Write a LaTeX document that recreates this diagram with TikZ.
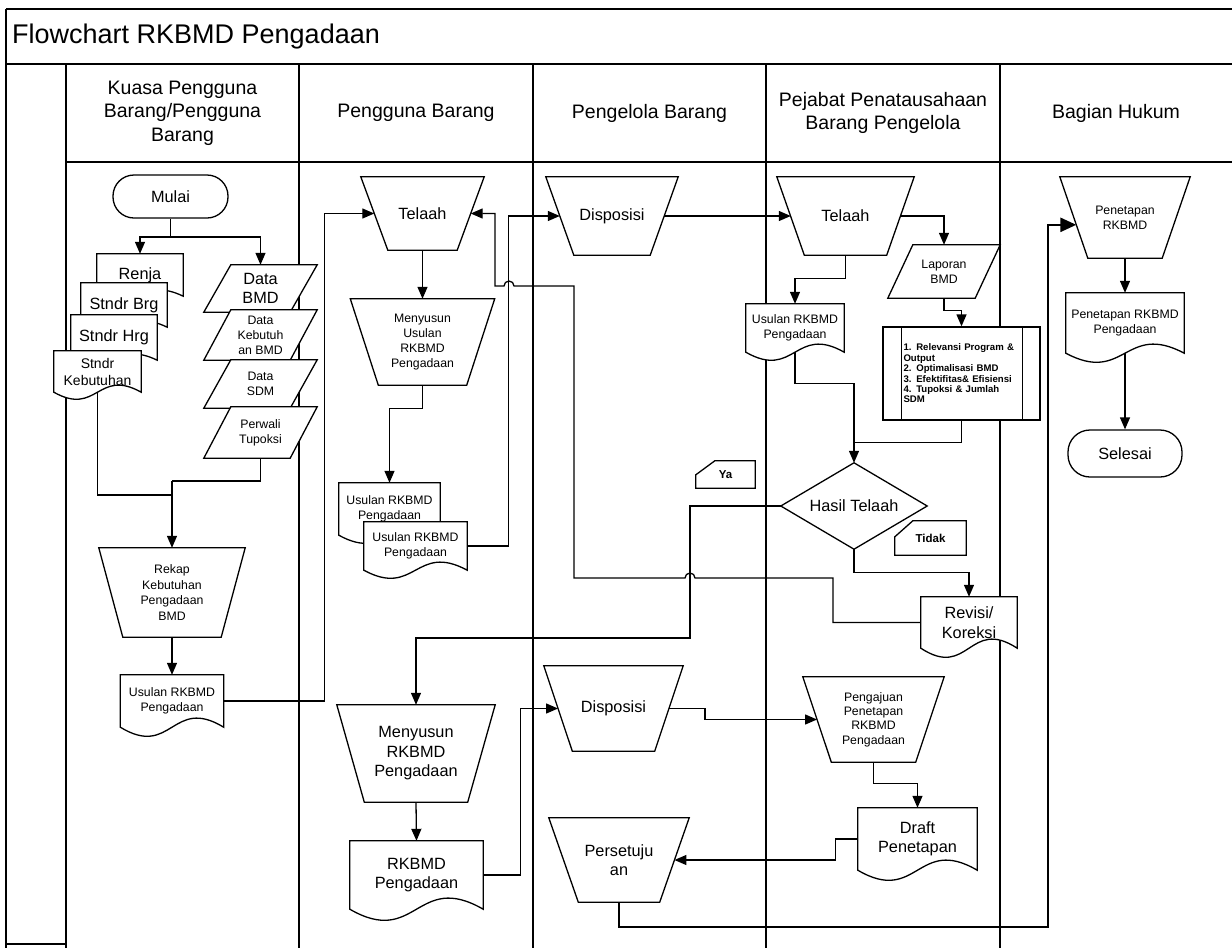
\documentclass[tikz,border=0pt]{standalone}
\usepackage{fontspec}
\setmainfont{Liberation Sans}
\usetikzlibrary{arrows.meta,calc}

\pgfdeclarelayer{lanes}
\pgfdeclarelayer{shapes}
\pgfsetlayers{lanes,shapes,main}

\newcommand\bigtxt{\fontsize{16.3}{19.5}\selectfont}
\newcommand\smalltxt{\fontsize{12.3}{15}\selectfont}
\newcommand\tagtxt{\bfseries\fontsize{11.5}{13}\selectfont}

\tikzset{
  shp/.style={draw, line width=1.3pt, fill=white, line join=miter},
  box/.style={inner sep=0pt, align=center},
  sz/.style 2 args={minimum width=#1pt, minimum height=#2pt},
  arr/.style={line width=1.3pt, -{Triangle[length=12pt,width=10pt]}},
  con/.style={line width=1.3pt},
  lane/.style={line width=1.3pt},
  frame/.style={line width=2pt},
  terminal/.style={draw, line width=1.3pt, fill=white, inner sep=0pt},
}

% manual operation: wide top, narrow bottom
\newcommand\mopshape[2]{\begin{pgfonlayer}{shapes}
  \draw[shp] (#1.north west) -- (#1.north east) -- ([xshift=-#2pt]#1.south east)
    -- ([xshift=#2pt]#1.south west) -- cycle;\end{pgfonlayer}}
% document with a wavy lower edge below the node body
\newcommand\docshape[2]{\begin{pgfonlayer}{shapes}
  \draw[shp] (#1.north west) -- (#1.north east) -- (#1.south east)
    .. controls ([yshift={3.5*#2}]#1.south) and ([yshift={-3.5*#2}]#1.south) .. (#1.south west) -- cycle;\end{pgfonlayer}}
% data (parallelogram leaning right)
\newcommand\parashape[2]{\begin{pgfonlayer}{shapes}
  \draw[shp] (#1.south west) -- ([xshift=#2pt]#1.north west) -- (#1.north east)
    -- ([xshift=-#2pt]#1.south east) -- cycle;\end{pgfonlayer}}
% manual input label with a cut upper-left corner
\newcommand\tagshape[3]{\begin{pgfonlayer}{shapes}
  \draw[shp] (#1.south west) -- ([yshift=-#3pt]#1.north west) -- ([xshift=#2pt]#1.north west)
    -- (#1.north east) -- (#1.south east) -- cycle;\end{pgfonlayer}}

\begin{document}
\begin{tikzpicture}[x=1pt,y=-1pt]
\useasboundingbox (0,0) rectangle (1232,948);

% ---- frame and swimlanes ----
\begin{pgfonlayer}{lanes}
\draw[frame] (6,9) -- (1232,9);
\draw[frame] (6,64) -- (1232,64);
\draw[frame] (66,162) -- (1232,162);
\draw[lane] (6,9) -- (6,948);
\draw[lane] (66,64) -- (66,948);
\foreach \x in {299,533,766,1000} \draw[lane] (\x,64) -- (\x,948);
\draw[lane] (6,944) -- (66,944);
\end{pgfonlayer}

\node[box, anchor=west, font=\fontsize{27}{32}\selectfont] (title) at (12,37) {Flowchart RKBMD Pengadaan};

\begin{scope}[every node/.append style={box, font=\fontsize{19.5}{23.5}\selectfont}]
\node (hkuasa) at (182.5,113) {Kuasa Pengguna\\Barang/Pengguna\\Barang};
\node (hpengguna) at (416,113) {Pengguna Barang};
\node (hpengelola) at (649.5,113) {Pengelola Barang};
\node (hpejabat) at (883,113) {Pejabat Penatausahaan\\Barang Pengelola};
\node (hhukum) at (1116,113) {Bagian Hukum};
\end{scope}

% ---- Kuasa Pengguna Barang ----
\node[terminal, sz={115}{43}, rounded corners=21pt, font=\bigtxt] (mulai) at (170.5,196.5) {Mulai};

\node[box, sz={86}{42}, font=\bigtxt] (renja) at (140,275) {Renja}; \docshape{renja}{6}
\node[box, sz={86}{44}, font=\bigtxt] (stbrg) at (124,305) {Stndr Brg}; \docshape{stbrg}{6}
\node[box, sz={86}{45}, font=\bigtxt] (sthrg) at (114,337.5) {Stndr Hrg}; \docshape{sthrg}{6}
\node[box, sz={87}{41}, font=\fontsize{14}{17}\selectfont] (stkeb) at (97.5,371.5) {Stndr\\Kebutuhan}; \docshape{stkeb}{7}

\node[box, sz={113}{47}, font=\bigtxt] (databmd) at (260.5,288.5) {Data\\BMD}; \parashape{databmd}{27}
\node[box, sz={113}{50}, font=\smalltxt] (datakeb) at (260.5,335) {Data\\Kebutuh\\an BMD}; \parashape{datakeb}{27}
\node[box, sz={113}{48}, font=\smalltxt] (datasdm) at (260.5,384) {Data\\SDM}; \parashape{datasdm}{27}
\node[box, sz={113}{51}, font=\smalltxt] (perwali) at (260.5,432.5) {Perwali\\Tupoksi}; \parashape{perwali}{27}

\node[box, sz={146}{89}, font=\fontsize{12.3}{15.7}\selectfont] (rekap) at (172,592.5) {Rekap\\Kebutuhan\\Pengadaan\\BMD}; \mopshape{rekap}{24}
\node[box, sz={103}{52}, font=\smalltxt] (usulA) at (172,701) {Usulan RKBMD\\Pengadaan}; \docshape{usulA}{9}

% ---- Pengguna Barang ----
\node[box, sz={123}{73}, font=\bigtxt] (telaahA) at (422.5,213.5) {Telaah}; \mopshape{telaahA}{27}
\node[box, sz={144}{86}, font=\smalltxt] (menyU) at (422.5,342) {Menyusun\\Usulan\\RKBMD\\Pengadaan}; \mopshape{menyU}{28}
\node[box, sz={101}{52}, font=\smalltxt] (usulB1) at (389.5,509) {Usulan RKBMD\\Pengadaan}; \docshape{usulB1}{8}
\node[box, sz={103}{48}, font=\smalltxt] (usulB2) at (415.5,546) {Usulan RKBMD\\Pengadaan}; \docshape{usulB2}{8}

\node[box, sz={158}{97}, font=\bigtxt] (menyR) at (416,753.5) {Menyusun\\RKBMD\\Pengadaan}; \mopshape{menyR}{27.5}
\node[box, sz={133}{68}, font=\bigtxt] (rkbmd) at (416.5,875) {RKBMD\\Pengadaan}; \docshape{rkbmd}{11}

% ---- Pengelola Barang ----
\node[box, sz={132}{78}, font=\bigtxt] (dispA) at (612,216) {Disposisi}; \mopshape{dispA}{28}
\node[box, sz={139}{85}, font=\bigtxt] (dispB) at (613.5,708.5) {Disposisi}; \mopshape{dispB}{28.5}
\node[box, sz={140}{84}, font=\bigtxt] (setuju) at (619,860) {Persetuju\\an}; \mopshape{setuju}{29.5}
\node[box, sz={59}{27}, font=\tagtxt] (ya) at (725.5,474.5) {Ya}; \tagshape{ya}{19}{14}

% ---- Pejabat Penatausahaan Barang Pengelola ----
\node[box, sz={137}{78}, font=\bigtxt] (telaahB) at (845.5,216) {Telaah}; \mopshape{telaahB}{27.5}
\node[box, sz={112}{53}, font=\smalltxt] (laporan) at (944,271.5) {Laporan\\BMD}; \parashape{laporan}{25}
\node[box, sz={98}{48}, font=\smalltxt] (usulC) at (795,328) {Usulan RKBMD\\Pengadaan}; \docshape{usulC}{8}
\node[shp, box, sz={157}{93}, text width=116pt, align=left, font=\bfseries\fontsize{9.6}{10.4}\selectfont] (proc) at (961.5,373.5)
  {1. Relevansi Program \&\\Output\\2. Optimalisasi BMD\\3. Efektifitas\& Efisiensi\\4. Tupoksi \& Jumlah\\SDM};
\draw[con] ([xshift=19pt]proc.north west) -- ([xshift=19pt]proc.south west);
\draw[con] ([xshift=-18pt]proc.north east) -- ([xshift=-18pt]proc.south east);

\node[box, sz={146}{86}, font=\bigtxt] (hasil) at (854,506) {Hasil Telaah};
\begin{pgfonlayer}{shapes}
\draw[shp] (hasil.north) -- (hasil.east) -- (hasil.south) -- (hasil.west) -- cycle;
\end{pgfonlayer}
\node[box, sz={71}{34}, font=\tagtxt] (tidak) at (930.5,538) {Tidak}; \tagshape{tidak}{18}{16}
\node[box, sz={96}{51}, font=\bigtxt] (revisi) at (969,622.5) {Revisi/\\Koreksi}; \docshape{revisi}{9}

\node[box, sz={141}{85}, font=\fontsize{12.3}{14.4}\selectfont] (peng) at (873.5,719.5) {Pengajuan\\Penetapan\\RKBMD\\Pengadaan}; \mopshape{peng}{28.5}
\node[box, sz={119}{62}, font=\bigtxt] (draft) at (917.5,839) {Draft\\Penetapan}; \docshape{draft}{10}

% ---- Bagian Hukum ----
\node[box, sz={130}{81}, font=\smalltxt] (penet) at (1125,217.5) {Penetapan\\RKBMD}; \mopshape{penet}{28}
\node[box, sz={118}{60}, font=\smalltxt] (pendoc) at (1125,323) {Penetapan RKBMD\\Pengadaan}; \docshape{pendoc}{9}
\node[terminal, sz={114}{47}, rounded corners=22pt, font=\bigtxt] (selesai) at (1125,453.5) {Selesai};

% ---- connectors ----
\coordinate (split) at (170.5,237);
\draw[con] (mulai.south) -- (split);
\draw[arr] (split) -| (renja.north);
\draw[arr] (split) -| (databmd.north);

\coordinate (j1) at (172,481);
\coordinate (j2) at (172,495);
\draw[con] (perwali.south) |- (j1);
\draw[con] (stkeb.south) |- (j2);
\draw[arr] (j1) -- (rekap.north);
\draw[arr] (rekap.south) -- (usulA.north);
\draw[arr] (usulA.east) -| ($(telaahA.west)+(-36,0)$) -- ([xshift=13.5pt]telaahA.west);

\draw[arr] (telaahA.south) -- (menyU.north);
\draw[arr] (menyU.south) -- ++(0,23) -| (usulB1.north);
\draw[arr] (usulB2.east) -| ($(dispA.west)+(-37,0)$) -- ([xshift=14pt]dispA.west);

\draw[arr] (revisi.west) -| (833,578) -- (695,578) arc[start angle=0, end angle=180, radius=5pt]
  -- (574,578) -- (574,286) -- (514,286) arc[start angle=0, end angle=180, radius=5pt]
  -- (495,286) |- ([xshift=-13.5pt]telaahA.east);

\draw[arr] ([xshift=-14pt]dispA.east) -- ([xshift=14pt]telaahB.west);
\draw[arr] ([xshift=-13.75pt]telaahB.east) -| (laporan.north);
\draw[arr] (telaahB.south) -- ++(0,23) -| (usulC.north);
\draw[arr] (laporan.south) -- ++(0,12) -| (proc.north);
\draw[arr] (usulC.south) -- ++(0,31) -| (hasil.north);
\draw[con] (proc.south) |- ($(hasil.north)+(0,-20)$);
\draw[arr] (hasil.south) -- ++(0,23) -| (revisi.north);
\draw[arr] (hasil.west) -| (690,638) -| (menyR.north);

\draw[arr] (menyR.south) -- (rkbmd.north);
\draw[arr] (rkbmd.east) -| ($(dispB.west)+(-23,0)$) -- ([xshift=14.25pt]dispB.west);
\draw[arr] ([xshift=-14.25pt]dispB.east) -- ++(36,0) |- ([xshift=14.25pt]peng.west);
\draw[arr] (peng.south) -- ++(0,21) -| (draft.north);
\draw[arr] (draft.west) -- ++(-22,0) |- ([xshift=-14.75pt]setuju.east);
\draw[line width=2.5pt, -{Triangle[length=16pt,width=14pt]}] (setuju.south) |- (1048,927)
  |- ($(penet.north west)!0.59!([xshift=28pt]penet.south west)$);

\draw[arr] (penet.south) -- (pendoc.north);
\draw[arr] (pendoc.south) -- (selesai.north);
\end{tikzpicture}
\end{document}
